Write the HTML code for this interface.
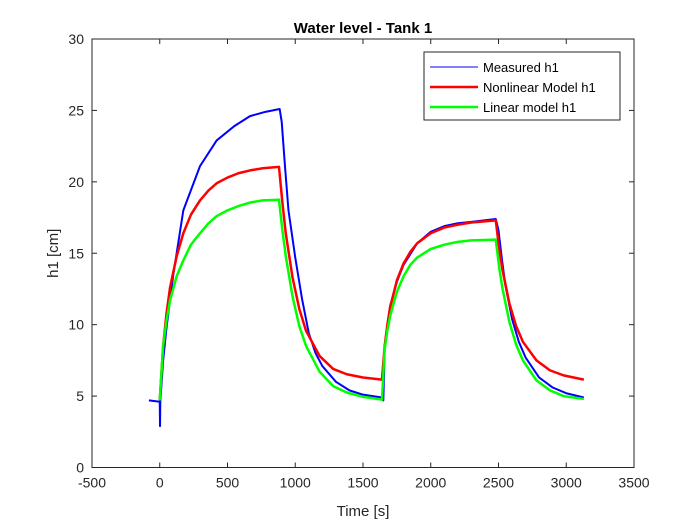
<!DOCTYPE html>
<html><head><meta charset="utf-8"><style>
body{margin:0;background:#fff;}
svg{display:block;font-family:"Liberation Sans",sans-serif;}
</style></head><body>
<svg id="chart" width="700" height="525" viewBox="0 0 700 525">
<rect width="700" height="525" fill="#fff"/>
<g id="plot"></g>
</svg>
<script>
const xTicks=[-500,0,500,1000,1500,2000,2500,3000,3500];
const yTicks=[0,5,10,15,20,25,30];
const tMeas=[-80,0,2,4,25,50,100,174,297,420,550,666,780,885,900,925,950,1000,1050,1100,1150,1200,1300,1400,1500,1640,1650,1660,1680,1700,1750,1800,1900,2000,2100,2200,2300,2480,2500,2525,2550,2600,2650,2700,2800,2900,3000,3130];
const hMeas=[4.7,4.6,2.9,4.6,7.5,9.8,13.5,18.0,21.1,22.9,23.9,24.6,24.9,25.1,24.2,21,18,14.7,11.8,9.4,8.0,7.1,6.0,5.4,5.1,4.9,4.7,8.5,10.0,11.3,13.0,14.2,15.7,16.5,16.9,17.1,17.2,17.4,16.6,14.6,12.8,10.4,8.8,7.7,6.3,5.6,5.2,4.9];
const tModel=[0,25,50,76,125,174,230,297,360,420,500,580,666,760,880,905,930,980,1030,1080,1180,1280,1380,1500,1640,1660,1680,1700,1750,1800,1850,1900,2000,2100,2200,2300,2480,2505,2530,2580,2630,2680,2780,2880,2980,3130];
const hNonlin=[4.7,8.5,10.8,12.6,14.8,16.4,17.7,18.7,19.4,19.9,20.3,20.6,20.8,20.95,21.05,18.55,16.4,13.3,11.1,9.56,7.8,6.9,6.53,6.3,6.15,8.5,10.0,11.2,13.1,14.3,15.1,15.7,16.4,16.8,17.0,17.15,17.3,15.3,13.8,11.5,9.9,8.8,7.5,6.8,6.45,6.15];
const hLin=[4.7,8.5,10.3,11.7,13.4,14.5,15.6,16.4,17.1,17.6,18.0,18.3,18.55,18.7,18.75,16.6,14.8,11.97,9.9,8.5,6.7,5.7,5.25,4.95,4.75,8.3,9.6,10.6,12.3,13.4,14.2,14.7,15.3,15.6,15.8,15.9,15.95,14.0,12.5,10.2,8.6,7.5,6.1,5.4,5.0,4.8];
const L=92,R=634,T=39,B=467.5;
const xs=v=>L+(v+500)/4000*(R-L);
const ys=v=>B-v/30*(B-T);
const g=document.getElementById('plot');
const NS='http://www.w3.org/2000/svg';
function mk(tag,attrs,parent){const e=document.createElementNS(NS,tag);for(const k in attrs)e.setAttribute(k,attrs[k]);(parent||g).appendChild(e);return e;}
function series(ts,hs,color,w,name){
  const p=mk('polyline',{points:ts.map((t,i)=>xs(t)+','+ys(hs[i])).join(' '),fill:'none',stroke:color,'stroke-width':w,'stroke-linejoin':'round'});
  
  
}
series(tMeas,hMeas,'#0000ff',2,'measured-h1-line');
series(tModel,hNonlin,'#ff0000',2.5,'nonlinear-model-line');
series(tModel,hLin,'#00ff00',2.5,'linear-model-line');
const box=mk('rect',{x:L,y:T,width:R-L,height:B-T,fill:'none',stroke:'#262626','stroke-width':1});


xTicks.forEach(v=>{
  const x=xs(v);
  mk('line',{x1:x,x2:x,y1:B,y2:B-5,stroke:'#262626'});
  mk('line',{x1:x,x2:x,y1:T,y2:T+5,stroke:'#262626'});
  const t=mk('text',{x:x,y:B+20,'text-anchor':'middle','font-size':14,fill:'#262626'});
  t.textContent=v;
  
  
});
yTicks.forEach(v=>{
  const y=ys(v);
  mk('line',{x1:L,x2:L+5,y1:y,y2:y,stroke:'#262626'});
  mk('line',{x1:R,x2:R-5,y1:y,y2:y,stroke:'#262626'});
  const t=mk('text',{x:L-8,y:y+5,'text-anchor':'end','font-size':14,fill:'#262626'});
  t.textContent=v;
  
  
});
const title=mk('text',{x:(L+R)/2,y:33,'text-anchor':'middle','font-size':15,'font-weight':'bold',fill:'#000'});
title.textContent='Water level - Tank 1';


const xl=mk('text',{x:(L+R)/2,y:516,'text-anchor':'middle','font-size':15,fill:'#262626'});
xl.textContent='Time [s]';


const yl=mk('text',{x:0,y:0,'text-anchor':'middle','font-size':15,fill:'#262626',transform:'translate(58,'+((T+B)/2)+') rotate(-90)'});
yl.textContent='h1 [cm]';


const lg=mk('g',{});


mk('rect',{x:424,y:52,width:196,height:68,fill:'#fff',stroke:'#262626','stroke-width':1},lg);
const entries=[['Measured h1','#0000ff',1],['Nonlinear Model h1','#ff0000',2.5],['Linear model h1','#00ff00',2.5]];
entries.forEach((e,i)=>{
  const y=67+i*20;
  const eg=mk('g',{},lg);
  
  
  mk('line',{x1:430,x2:478,y1:y,y2:y,stroke:e[1],'stroke-width':e[2]},eg);
  const t=mk('text',{x:483,y:y+5,'font-size':13,fill:'#000'},eg);
  t.textContent=e[0];
});
</script>
</body></html>
